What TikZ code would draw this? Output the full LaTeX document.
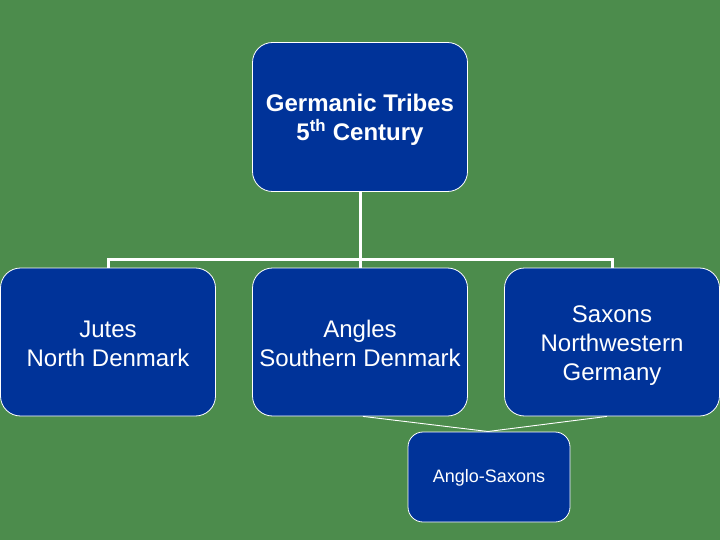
\documentclass[tikz,border=0pt]{standalone}
\usepackage{fontspec}
\setmainfont{Liberation Sans}
\definecolor{bggreen}{RGB}{76,140,76}
\definecolor{boxblue}{RGB}{0,51,153}
\newcommand{\dn}{\rule{0pt}{23.5pt}}
\begin{document}
\begin{tikzpicture}[x=1pt,y=-1pt,
  tbox/.style={draw=white,line width=0.8pt,fill=boxblue,rounded corners=#1,text=white,align=center,font=\fontsize{24}{29}\selectfont},
  tbox/.default=20pt,
  conn/.style={white,line width=3pt},
  thin/.style={white,line width=0.9pt}]
\fill[bggreen] (0,0) rectangle (720,540);
\useasboundingbox (0,0) rectangle (720,540);
\node[tbox,minimum width=215pt,minimum height=149pt,font=\fontsize{24}{29}\selectfont\bfseries] (top) at (360,117) {\dn Germanic Tribes\\5\textsuperscript{th} Century};
\node[tbox,minimum width=215pt,minimum height=148pt] (jutes) at (108,342) {\rule{0pt}{21pt}Jutes\\North Denmark};
\node[tbox,minimum width=215pt,minimum height=148pt] (angles) at (360,342) {\rule{0pt}{21pt}Angles\\Southern Denmark};
\node[tbox,minimum width=215pt,minimum height=148pt] (saxons) at (612,342) {\dn Saxons\\Northwestern\\Germany};
\node[tbox=15pt,minimum width=162pt,minimum height=90pt,font=\fontsize{18}{22}\selectfont] (anglo) at (489,477) {\rule{0pt}{15pt}Anglo-Saxons};
\coordinate (bus) at (360,259);
\draw[conn] (top.south) -- (angles.north);
\draw[conn] (jutes.north) |- (bus) -| (saxons.north);
\coordinate (meet) at (488,431.5);
\draw[thin] ([xshift=3pt]angles.south) -- (meet);
\draw[thin] ([xshift=-5pt]saxons.south) -- (meet);
\end{tikzpicture}
\end{document}
